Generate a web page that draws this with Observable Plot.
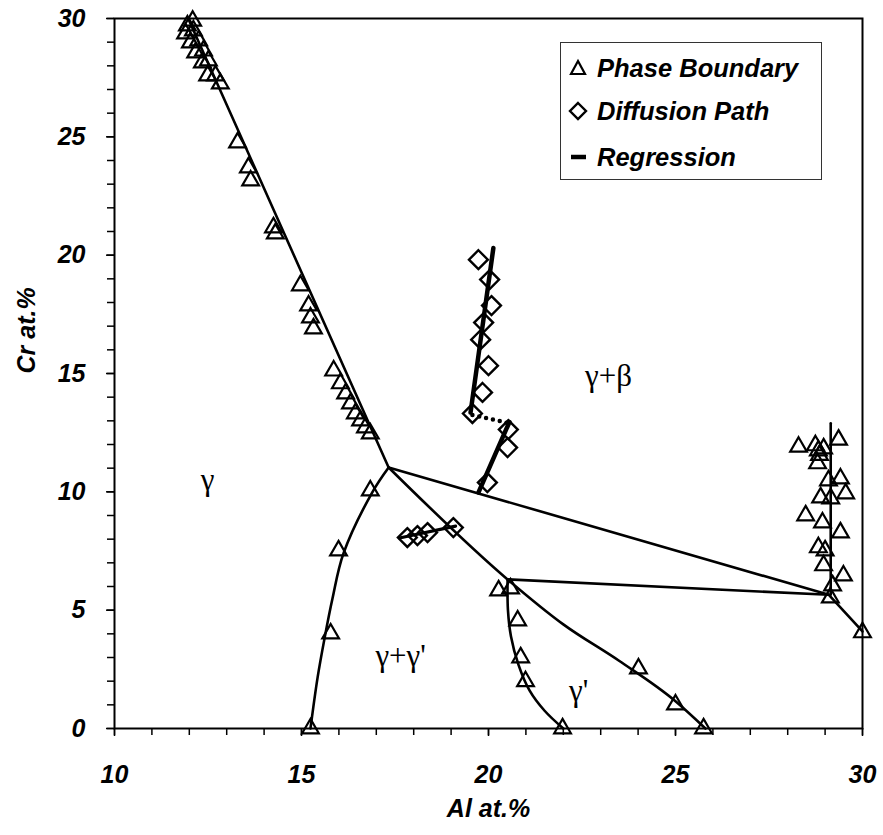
<!DOCTYPE html>
<html>
<head>
<meta charset="utf-8">
<script src="https://cdn.jsdelivr.net/npm/d3@7"></script>
<script src="https://cdn.jsdelivr.net/npm/@observablehq/plot@0.6"></script>
<style>
  html, body { margin: 0; padding: 0; background: #fff; }
  #wrap { position: relative; width: 883px; height: 835px; }
  #legend {
    position: absolute; left: 560px; top: 42px; width: 262px; height: 138px;
    border: 1.3px solid #333; box-sizing: border-box; background: #fff;
    font-family: "Liberation Sans", Arial, sans-serif; font-style: italic; font-weight: bold; font-size: 25.5px; color: #000;
  }
  #legend .row { position: absolute; left: 0; height: 30px; display: flex; align-items: center; white-space: nowrap; }
  #legend svg { display: block; }
</style>
</head>
<body>
<div id="wrap"></div>
<script>
// ---- Data (Al at.% , Cr at.%) ----
const xTicks = [10, 15, 20, 25, 30];
const yTicks = [0, 5, 10, 15, 20, 25, 30];

// Phase boundary points (triangles)
const phaseBoundary = [
  [12.09, 29.9], [11.95, 29.7], [11.9, 29.36], [12.11, 29.49], [12.03, 28.98], [12.25, 29.07],
  [12.17, 28.56], [12.38, 28.64], [12.35, 28.14], [12.51, 28.22], [12.49, 27.59], [12.7, 27.59], [12.83, 27.25],
  [13.29, 24.76], [13.58, 23.7], [13.64, 23.15], [14.25, 21.17], [14.3, 20.91],
  [14.97, 18.72], [15.19, 17.87], [15.24, 17.36], [15.32, 16.9], [15.86, 15.12], [16.04, 14.58],
  [16.18, 14.15], [16.31, 13.73], [16.44, 13.31], [16.58, 13.01], [16.71, 12.72], [16.84, 12.46],
  [16.84, 10.05], [15.99, 7.52], [15.78, 4.01], [15.24, 0],
  [20.27, 5.83], [20.59, 5.91], [20.78, 4.56], [20.86, 3.0], [20.99, 1.99], [21.98, 0],
  [24.01, 2.53], [25.0, 1.01], [25.75, 0],
  [28.29, 11.9], [28.74, 11.96], [28.82, 11.74], [28.96, 11.83], [28.85, 11.55], [29.36, 12.2],
  [28.8, 11.2], [29.09, 10.48], [29.41, 10.56], [29.55, 9.93], [28.88, 9.76], [29.15, 9.72],
  [28.48, 9.0], [28.93, 8.7], [29.41, 8.28], [28.82, 7.65], [29.0, 7.52], [28.96, 6.89],
  [29.49, 6.46], [29.2, 6.04], [29.14, 5.53], [30.0, 4.06]
];

// Diffusion path points (diamonds)
const diffusionUpper = [[19.73, 19.81], [20.03, 18.97], [20.08, 17.87], [19.87, 17.15], [19.79, 16.43], [20.0, 15.33], [19.84, 14.2], [19.57, 13.31]];
const diffusionLower = [[20.53, 12.63], [20.51, 11.87], [19.97, 10.39]];
const diffusionLeft  = [[17.83, 8.07], [18.1, 8.15], [18.37, 8.28], [19.06, 8.49]];

// Regression / phase boundary lines
const lineGammaBeta   = [[11.97, 30], [17.33, 11.03]];
const lineTieUpper    = [[17.33, 11.03], [29.1, 5.65]];
const lineTieLower    = [[20.51, 6.3], [29.1, 5.65]];
const lineBetaEdge    = [[29.1, 5.65], [30, 4.1]];
const lineBetaVert    = [[29.15, 5.65], [29.15, 12.9]];
const lineGammaGP     = [[17.33, 11.03], [16.9, 10.0], [16.12, 7.39], [15.83, 5.5], [15.62, 3.84], [15.43, 2.15], [15.24, 0]];
const lineGPBeta      = [[17.33, 11.03], [20.51, 6.3], [22.0, 4.4], [23.5, 2.85], [25.0, 1.15], [25.8, 0]];
const lineGPGammaGP   = [[20.51, 6.3], [20.52, 5.0], [20.6, 3.9], [20.8, 2.7], [21.1, 1.6], [21.5, 0.75], [22.0, 0]];

const regDiffUpper  = [[20.13, 20.3], [19.52, 13.35]];
const regDiffDotted = [[19.57, 13.25], [20.55, 12.9]];
const regDiffLower  = [[20.56, 12.95], [19.73, 9.97]];
const regDiffLeft   = [[17.62, 8.05], [19.12, 8.55]];

// Region labels
const regionText = ["γ", "γ+β", "γ+γ'", "γ'"];
const regionX = [12.49, 23.21, 17.65, 22.41];
const regionY = [10.48, 14.91, 3.08, 1.6];
const regions = regionText.map((t, i) => ({t, x: regionX[i], y: regionY[i]}));

const legendLabels = ["Phase Boundary", "Diffusion Path", "Regression"];

const minorX = d3.range(10, 31, 1);
const minorY = d3.range(0, 31, 1);

const lineOpts = {x: d => d[0], y: d => d[1], stroke: "#000", strokeWidth: 2.6};
const diffOpts = {x: d => d[0], y: d => d[1], stroke: "#000", strokeWidth: 4.5, strokeLinecap: "round"};

const chart = Plot.plot({
  width: 883,
  height: 835,
  marginLeft: 114,
  marginRight: 21,
  marginTop: 18,
  marginBottom: 107,
  x: {domain: [10, 30]},
  y: {domain: [0, 30]},
  style: {fontFamily: "'Liberation Sans', Arial, sans-serif", fontStyle: "italic", fontWeight: "bold", fontSize: "25px", background: "#fff", color: "#000"},
  marks: [
    Plot.axisX(minorX, {tickSize: 7, tickFormat: () => "", label: null, strokeWidth: 1.5}),
    Plot.axisY(minorY, {tickSize: 7, tickFormat: () => "", label: null, strokeWidth: 1.5}),
    Plot.axisX(xTicks, {tickSize: 8, tickPadding: 29, label: null, fontSize: 25, fontStyle: "italic", fontWeight: "bold", strokeWidth: 1.5}),
    Plot.axisY(yTicks, {tickSize: 8, tickPadding: 21, label: null, fontSize: 25, fontStyle: "italic", fontWeight: "bold", strokeWidth: 1.5}),
    Plot.frame({stroke: "#000", strokeWidth: 2}),
    Plot.text(["Al at.%"], {frameAnchor: "bottom", dy: 80, lineAnchor: "middle", fontSize: 25, fontStyle: "italic", fontWeight: "bold"}),
    Plot.text(["Cr at.%"], {frameAnchor: "left", dx: -88, rotate: -90, lineAnchor: "middle", fontSize: 25, fontStyle: "italic", fontWeight: "bold"}),

    Plot.line(lineGammaBeta, lineOpts),
    Plot.line(lineTieUpper, lineOpts),
    Plot.line(lineTieLower, lineOpts),
    Plot.line(lineBetaEdge, lineOpts),
    Plot.line(lineBetaVert, lineOpts),
    Plot.line(lineGammaGP, {...lineOpts, curve: "catmull-rom"}),
    Plot.line(lineGPBeta, {...lineOpts, curve: "monotone-x"}),
    Plot.line(lineGPGammaGP, {...lineOpts, curve: "catmull-rom"}),

    Plot.line(regDiffUpper, diffOpts),
    Plot.line(regDiffDotted, {...diffOpts, strokeDasharray: "0 7"}),
    Plot.line(regDiffLower, diffOpts),
    Plot.line(regDiffLeft, {...diffOpts, strokeWidth: 3.2}),

    Plot.dot(phaseBoundary, {x: d => d[0], y: d => d[1], symbol: "triangle", r: 6.2, stroke: "#000", strokeWidth: 2.2, fill: "none"}),
    Plot.dot([...diffusionUpper, ...diffusionLower, ...diffusionLeft], {x: d => d[0], y: d => d[1], symbol: "diamond2", r: 8.5, stroke: "#000", strokeWidth: 2.4, fill: "none"}),

    Plot.text(regions, {x: "x", y: "y", text: "t", fontFamily: "'Liberation Serif', 'Times New Roman', serif", fontStyle: "normal", fontWeight: "normal", fontSize: 31, lineAnchor: "middle"})
  ]
});

const wrap = document.getElementById("wrap");
wrap.appendChild(chart);

// Legend (HTML overlay)
const legend = document.createElement("div");
legend.id = "legend";
const symbols = [
  '<svg width="22" height="20"><path d="M11,3 L18,16 L4,16 Z" fill="none" stroke="#000" stroke-width="2.2"/></svg>',
  '<svg width="22" height="22"><path d="M11,3 L19,11 L11,19 L3,11 Z" fill="none" stroke="#000" stroke-width="2.4"/></svg>',
  '<svg width="22" height="20"><line x1="4" y1="10" x2="19" y2="10" stroke="#000" stroke-width="4.5"/></svg>'
];
const tops = [10, 53, 99];
legendLabels.forEach((lab, i) => {
  const row = document.createElement("div");
  row.className = "row";
  row.style.top = tops[i] + "px";
  row.style.left = "6px";
  row.innerHTML = symbols[i] + '<span style="margin-left:8px">' + lab + '</span>';
  legend.appendChild(row);
});
wrap.appendChild(legend);
</script>
</body>
</html>
